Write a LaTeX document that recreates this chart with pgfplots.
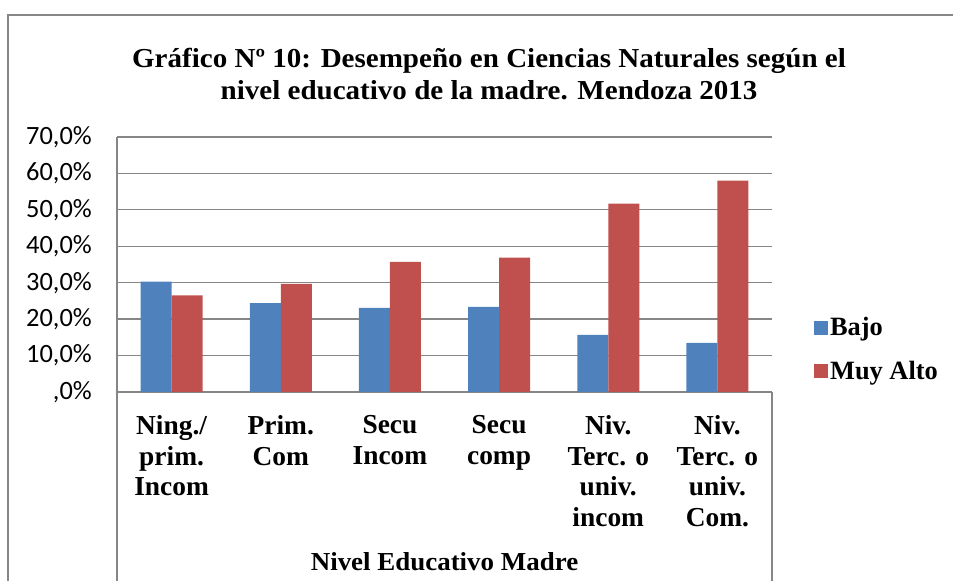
\documentclass[border=0pt]{standalone}
\usepackage{fontspec}
\setmainfont{Liberation Serif}
\newfontfamily\calibri{Carlito}
\usepackage{graphicx}
\usepackage{pgfplots}
\pgfplotsset{compat=1.18}
\definecolor{bajo}{HTML}{4F81BD}
\definecolor{alto}{HTML}{C0504D}
\definecolor{gridc}{HTML}{868686}
\begin{document}
\begin{tikzpicture}[x=1bp,y=1bp]
\useasboundingbox (0,0) rectangle (953,581);
\draw[gridc, line width=1.5bp] (8,0) -- (8,566) -- (953,566);
\node[anchor=base, font=\fontsize{27.5}{32}\selectfont\bfseries] at (489,513) {\scalebox{1.06}[1]{Gráfico Nº 10: Desempeño en Ciencias Naturales según el}};
\node[anchor=base, font=\fontsize{27.5}{32}\selectfont\bfseries] at (489,481) {\scalebox{1.06}[1]{nivel educativo de la madre. Mendoza 2013}};
\draw[gridc, line width=1.3bp] (117,0) -- (117,189);
\draw[gridc, line width=1.3bp] (772,0) -- (772,189);
\node[anchor=base, font=\fontsize{26}{30}\selectfont\bfseries] at (444.5,10) {\scalebox{1.04}[1]{Nivel Educativo Madre}};
\begin{axis}[
  at={(117bp,189bp)}, anchor=south west,
  width=655bp, height=255bp, scale only axis,
  xmin=-0.5, xmax=5.5, ymin=0, ymax=70,
  ybar=0pt, bar width=31bp,
  axis x line*=bottom, axis y line*=left,
  axis line style={gridc, line width=1.3bp},
  ymajorgrids, grid style={gridc, line width=1.3bp},
  major tick length=0pt,
  ytick={0,10,20,30,40,50,60,70},
  yticklabels={{,0\%},{10,0\%},{20,0\%},{30,0\%},{40,0\%},{50,0\%},{60,0\%},{70,0\%}},
  yticklabel style={font=\calibri\fontsize{26.5}{26}\selectfont, anchor=east, inner sep=0pt, xshift=-25bp},
  xtick={0,1,2,3,4,5},
  xticklabels={{Ning./\\prim.\\Incom},{Prim.\\Com},{Secu\\Incom},{Secu\\comp},{Niv.\\Terc. o\\univ.\\incom},{Niv.\\Terc. o\\univ.\\Com.}},
  xticklabel style={font=\fontsize{27.5}{31}\selectfont\bfseries, align=center, anchor=north, inner sep=0pt, yshift=-23bp},
  clip=false,
  legend style={at={(1.064,0.167)}, anchor=west, draw=none, fill=none,
    font=\fontsize{26.5}{30}\selectfont\bfseries, row sep=20bp, inner sep=0pt},
  legend cell align=left,
  legend image code/.code={\fill (0bp,-7bp) rectangle (14bp,7bp);},
]
\addplot[fill=bajo, draw=none] coordinates {(0,30.3) (1,24.4) (2,23.1) (3,23.4) (4,15.7) (5,13.5)};
\addplot[fill=alto, draw=none] coordinates {(0,26.5) (1,29.7) (2,35.7) (3,36.9) (4,51.7) (5,58.0)};
\legend{Bajo, Muy Alto}
\end{axis}
\end{tikzpicture}
\end{document}
